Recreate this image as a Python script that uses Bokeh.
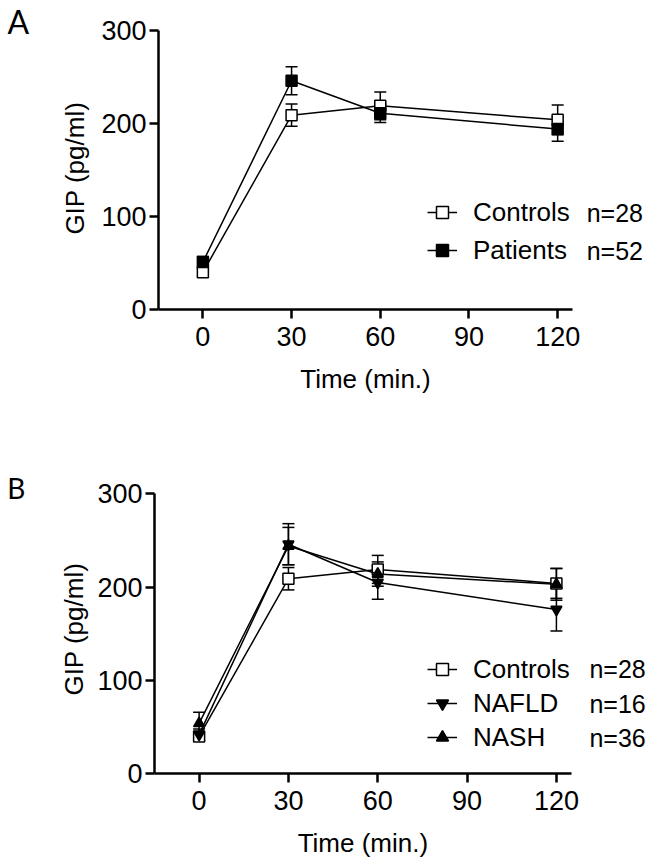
import math
from bokeh.plotting import figure
from bokeh.models import (Range1d, FixedTicker, ColumnDataSource, Whisker, TeeHead,
                          Legend, LegendItem, Label)
from bokeh.layouts import column
from bokeh.embed import file_html
from bokeh.resources import INLINE

# ---------------- data ----------------
time_min = [0, 30, 60, 120]
x_ticks = [0, 30, 60, 90, 120]
y_ticks = [0, 100, 200, 300]

controls_mean = [40, 209, 219, 204]
controls_sem = [4, 12, 15, 16]
patients_mean = [51, 246, 211, 194]
patients_sem = [6, 15, 10, 13]

nafld_mean = [42, 246, 205, 176]
nafld_sem = [6, 22, 18, 23]
nash_mean = [54, 244, 214, 203]
nash_sem = [12, 20, 13, 17]

legend_A = ["Controls", "Patients"]
n_A = ["n=28", "n=52"]
legend_B = ["Controls", "NAFLD", "NASH"]
n_B = ["n=28", "n=16", "n=36"]

FONT = "Liberation Sans"


def src(mean, sem):
    return ColumnDataSource(dict(
        x=time_min, y=mean,
        upper=[m + s for m, s in zip(mean, sem)],
        lower=[m - s for m, s in zip(mean, sem)]))


def base_fig(height, xr, yr):
    # the frame covers the whole figure; axes are pinned at x=-15 and y=0
    p = figure(width=650, height=height, x_range=Range1d(*xr), y_range=Range1d(*yr),
               output_backend="svg", toolbar_location=None,
               min_border_left=0, min_border_right=0, min_border_top=0, min_border_bottom=0)
    p.outline_line_color = None
    p.xgrid.visible = False
    p.ygrid.visible = False
    p.xaxis.ticker = FixedTicker(ticks=x_ticks)
    p.yaxis.ticker = FixedTicker(ticks=y_ticks)
    p.xaxis.bounds = (-15, 125)
    p.yaxis.bounds = (0, 300)
    p.xaxis.fixed_location = 0
    p.yaxis.fixed_location = -15
    for ax in (p.xaxis[0], p.yaxis[0]):
        ax.axis_line_width = 2.5
        ax.axis_line_color = "black"
        ax.major_tick_line_width = 2.5
        ax.major_tick_line_color = "black"
        ax.major_tick_in = 0
        ax.major_tick_out = 9
        ax.minor_tick_line_color = None
        ax.major_label_text_font = FONT
        ax.major_label_text_font_size = "27px"
        ax.major_label_text_color = "black"
    p.xaxis.major_label_standoff = 8
    p.yaxis.major_label_standoff = 3
    return p


def axis_titles(p, x_title_pos, y_title_pos):
    p.add_layout(Label(x=x_title_pos[0], y=x_title_pos[1], text="Time (min.)",
                       text_font=FONT, text_font_size="26px", text_color="black",
                       text_align="center", text_baseline="alphabetic"))
    p.add_layout(Label(x=y_title_pos[0], y=y_title_pos[1], text="GIP (pg/ml)", angle=math.pi / 2,
                       text_font=FONT, text_font_size="26px", text_color="black",
                       text_align="center", text_baseline="alphabetic"))


def add_series(p, mean, sem, marker, fill):
    s = src(mean, sem)
    w = Whisker(base="x", upper="upper", lower="lower", source=s,
                line_width=1.5, line_color="black",
                upper_head=TeeHead(size=12, line_width=1.5, line_color="black"),
                lower_head=TeeHead(size=12, line_width=1.5, line_color="black"))
    p.add_layout(w)
    ln = p.line("x", "y", source=s, line_color="black", line_width=1.5)
    sc = p.scatter("x", "y", source=s, marker=marker, size=11,
                   fill_color=fill, line_color="black", line_width=1.5)
    return [ln, sc]


def add_legend(p, labels, renderers, loc, row_h):
    leg = Legend(items=[LegendItem(label=lab, renderers=r) for lab, r in zip(labels, renderers)],
                 location=loc, orientation="vertical",
                 background_fill_alpha=0, border_line_color=None,
                 padding=0, margin=0, spacing=0,
                 glyph_width=30, glyph_height=row_h, label_height=row_h,
                 label_standoff=16,
                 label_text_font=FONT, label_text_font_size="26px",
                 label_text_color="black")
    p.add_layout(leg)


def add_n(p, texts, x, ys):
    for t, y in zip(texts, ys):
        p.add_layout(Label(x=x, y=y, text=t,
                           text_font=FONT, text_font_size="25px", text_color="black",
                           text_baseline="middle"))


# ---------------- panel A ----------------
pA = base_fig(471, (-68.45, 151.4), (-174.2, 332.3))
rc = add_series(pA, controls_mean, controls_sem, "square", "white")
rp = add_series(pA, patients_mean, patients_sem, "square", "black")
add_legend(pA, legend_A, [rc, rp], (427, 202), 38)
add_n(pA, n_A, 129.8, [104.3, 63.4])
axis_titles(pA, (55, -74.2), (-43.4, 152))
pA.add_layout(Label(x=-66.1, y=309.7, text="A",
                    text_font="Lato", text_font_size="32px", text_color="black",
                    text_baseline="alphabetic"))

# ---------------- panel B ----------------
pB = base_fig(393, (-66.7, 151.6), (-97.2, 323.9))
rc2 = add_series(pB, controls_mean, controls_sem, "square", "white")
rn = add_series(pB, nafld_mean, nafld_sem, "inverted_triangle", "black")
rh = add_series(pB, nash_mean, nash_sem, "triangle", "black")
add_legend(pB, legend_B, [rc2, rn, rh], (427, 110), 34)
add_n(pB, n_B, 131.1, [111.8, 75, 38.6])
axis_titles(pB, (55, -73.7), (-41.9, 155))
pB.add_layout(Label(x=-64.4, y=306.7, text="B",
                    text_font="Lato", text_font_size="28px", text_color="black",
                    text_baseline="alphabetic"))

layout = column(pA, pB, spacing=0)
open("out.html", "w").write(file_html(layout, INLINE))
